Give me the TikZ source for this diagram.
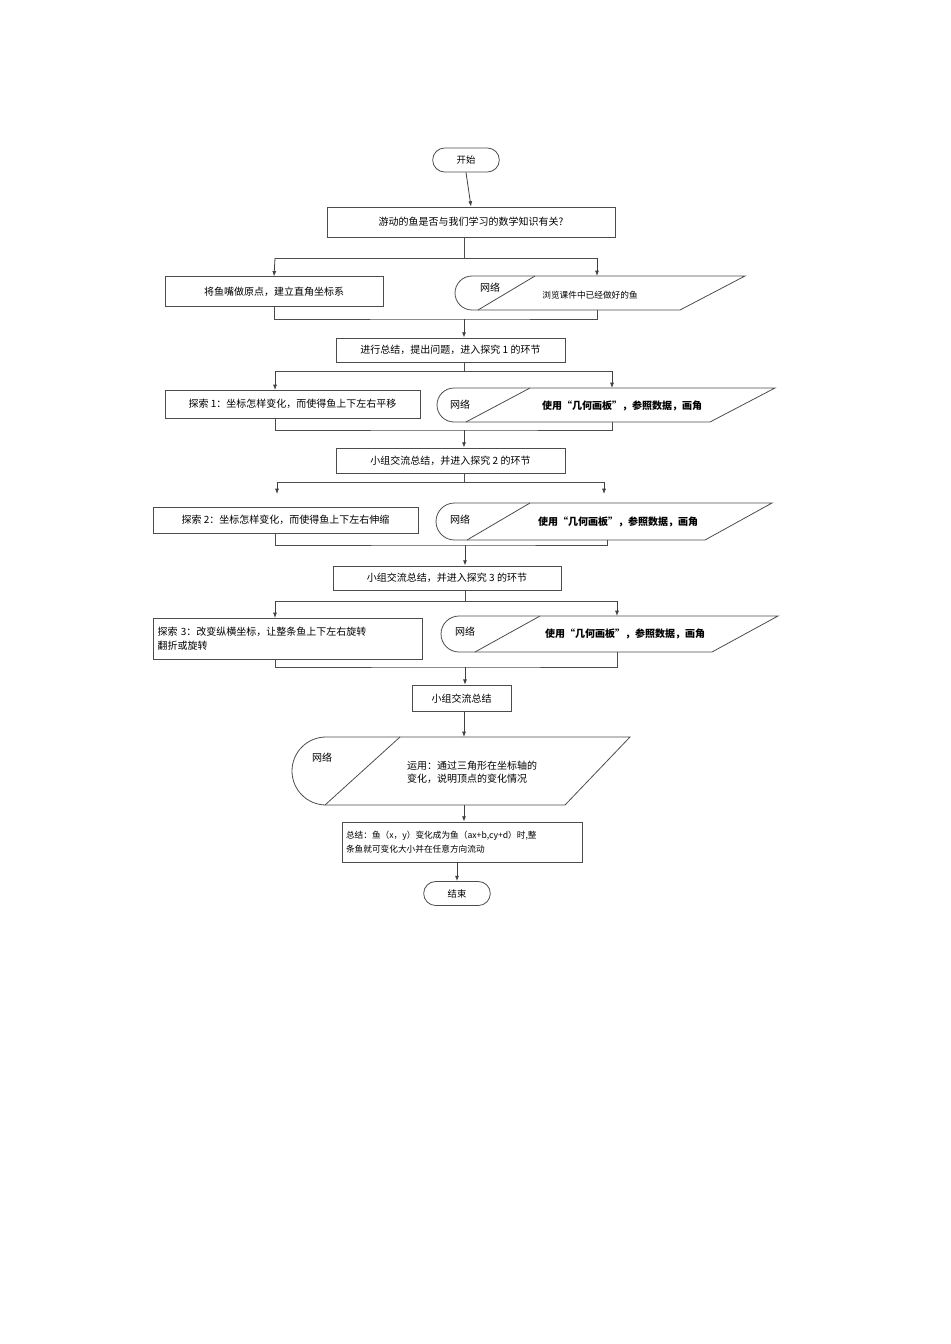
\documentclass[tikz,border=0pt]{standalone}
\usepackage{fontspec}
\newfontfamily\cjk{Noto Sans CJK SC}
\usetikzlibrary{arrows.meta}
\begin{document}
\begin{tikzpicture}[x=0.75pt,y=0.75pt,
 line width=0.6pt, draw=black!75,
 box/.style={draw=black!70,minimum height=#1,inner sep=2pt,font=\cjk\fontsize{7.5}{10}\selectfont},
 term/.style={draw=black!70,rounded corners=9pt,minimum width=50pt,minimum height=18pt,font=\cjk\fontsize{7}{9}\selectfont},
 txt/.style={font=\cjk\fontsize{7.5}{10}\selectfont,inner sep=0},
 btxt/.style={font=\cjk\bfseries\fontsize{7.5}{10}\selectfont,inner sep=0},
 arr/.style={-{Latex[length=4pt,width=3pt]}},
 ln/.style={draw=black!70}]
\useasboundingbox (0,0) rectangle (950,-1344);
% start
\node[term] (start) at (466,-160) {开始};
\node[box=22.5pt,minimum width=216pt] (b1) at (471,-222) {游动的鱼是否与我们学习的数学知识有关?};
\draw[arr] (start.south) -- (b1.north);
\coordinate (s1) at (464,-258);
\draw[ln] (b1.south -| s1) -- (s1);
\draw[ln] (275,-258) coordinate (s1l) -- (597,-258) coordinate (s1r);
\node[box=22pt,minimum width=163.5pt] (b2) at (274,-291.5) {将鱼嘴做原点，建立直角坐标系};
\draw[arr] (s1l) -- (b2.north);
% net shape 1
\draw[ln] (745,-276) -- (472,-276) arc[start angle=90,end angle=270,radius=17] -- (680,-310) -- cycle;
\draw[ln] (478,-310) -- (535,-276);
\coordinate (n1t) at (597,-276); \coordinate (n1b) at (597,-310);
\node[txt] (n1a) at (490,-288) {网络};
\node[txt,font=\cjk\fontsize{6.5}{8}\selectfont] (n1c) at (590,-295) {浏览课件中已经做好的鱼};
\draw[arr] (s1r) -- (n1t);
\draw[ln] (b2.south) |- (464,-319) coordinate (m1) -| (n1b);
\node[box=18pt,minimum width=171.75pt] (b3) at (450.5,-350) {进行总结，提出问题，进入探究 1 的环节};
\draw[arr] (m1) -- (m1 |- b3.north);
% branch 2
\draw[ln] (b3.south -| m1) -- (464,-371) coordinate (s2);
\draw[ln] (275,-371) coordinate (s2l) -- (612,-371) coordinate (s2r);
\node[box=21pt,minimum width=191.25pt] (b4) at (292.5,-404) {探索 1：坐标怎样变化，而使得鱼上下左右平移};
\draw[arr] (s2l) -- (275,-390);
\draw[ln] (775,-388) -- (454,-388) arc[start angle=90,end angle=270,radius=17] -- (710,-422) -- cycle;
\draw[ln] (466,-422) -- (530,-388);
\coordinate (n2t) at (612,-388); \coordinate (n2b) at (612,-422);
\node[txt] (n2a) at (460,-405) {网络};
\node[btxt] (n2c) at (622,-406) {使用“几何画板”，参照数据，画角};
\draw[arr] (s2r) -- (n2t);
\draw[ln] (275,-418) |- (464,-430) coordinate (m2) -| (n2b);
\node[box=18.75pt,minimum width=171.75pt] (b5) at (450.5,-460.5) {小组交流总结，并进入探究 2 的环节};
\draw[arr] (m2) -- (m2 |- b5.north);
% branch 3
\draw[ln] (b5.south -| m2) -- (464,-482) coordinate (s3);
\draw[ln] (277,-482) coordinate (s3l) -- (604,-482) coordinate (s3r);
\draw[arr] (s3l) -- (277,-494);
\draw[arr] (s3r) -- (604,-494);
\node[box=19.5pt,minimum width=198.75pt] (b6) at (285.5,-520) {探索 2：坐标怎样变化，而使得鱼上下左右伸缩};
\draw[ln] (772,-503) -- (454.5,-503) arc[start angle=90,end angle=270,radius=18.5] -- (705,-540) -- cycle;
\draw[ln] (467,-540) -- (530,-503);
\coordinate (n3b) at (607,-540);
\node[txt] (n3a) at (460,-520) {网络};
\node[btxt] (n3c) at (618,-522) {使用“几何画板”，参照数据，画角};
\draw[ln] (275,-533) |- (465,-545) coordinate (m3) -| (n3b);
\node[box=18pt,minimum width=171pt] (b7) at (447,-578) {小组交流总结，并进入探究 3 的环节};
\draw[arr] (m3) -- (m3 |- b7.north);
% branch 4
\draw[ln] (b7.south -| m3) -- (465,-601) coordinate (s4);
\draw[ln] (275,-601) coordinate (s4l) -- (617,-601) coordinate (s4r);
\node[box=30.75pt,minimum width=201.75pt,align=left,text width=195pt] (b8) at (287.5,-638.5) {探索 3：改变纵横坐标，让整条鱼上下左右旋转\\翻折或旋转};
\draw[arr] (s4l) -- (275,-618);
\draw[ln] (778,-616) -- (459,-616) arc[start angle=90,end angle=270,radius=18] -- (712,-652) -- cycle;
\draw[ln] (475,-652) -- (540,-616);
\coordinate (n4t) at (617,-616); \coordinate (n4b) at (617,-652);
\node[txt] (n4a) at (465,-632) {网络};
\node[btxt] (n4c) at (625,-634) {使用“几何画板”，参照数据，画角};
\draw[arr] (s4r) -- (n4t);
\draw[ln] (275,-659) |- (465,-667) coordinate (m4) -| (n4b);
\node[box=20pt,minimum width=74.25pt] (b9) at (461.5,-698.5) {小组交流总结};
\draw[arr] (m4) -- (m4 |- b9.north);
% net shape 5
\draw[ln] (630,-737) -- (326,-737) arc[start angle=90,end angle=270,radius=34] -- (565,-805) -- cycle;
\draw[ln] (325,-805) -- (400,-737);
\coordinate (n5t) at (464,-737); \coordinate (n5b) at (464,-805);
\node[txt] (n5a) at (322,-758) {网络};
\node[txt,align=left] (n5c) at (472,-772) {运用：通过三角形在坐标轴的\\变化，说明顶点的变化情况};
\draw[arr] (b9.south -| n5t) -- (n5t);
\node[box=30pt,minimum width=180pt,align=left,text width=174pt,font=\cjk\fontsize{6.5}{10}\selectfont] (b10) at (462,-842) {总结：鱼（x，y）变化成为鱼（ax+b,cy+d）时,整\\条鱼就可变化大小并在任意方向流动};
\draw[arr] (n5b) -- (n5b |- b10.north);
\node[term] (end) at (457,-893.5) {结束};
\draw[arr] (b10.south -| end) -- (end.north);
\end{tikzpicture}
\end{document}
